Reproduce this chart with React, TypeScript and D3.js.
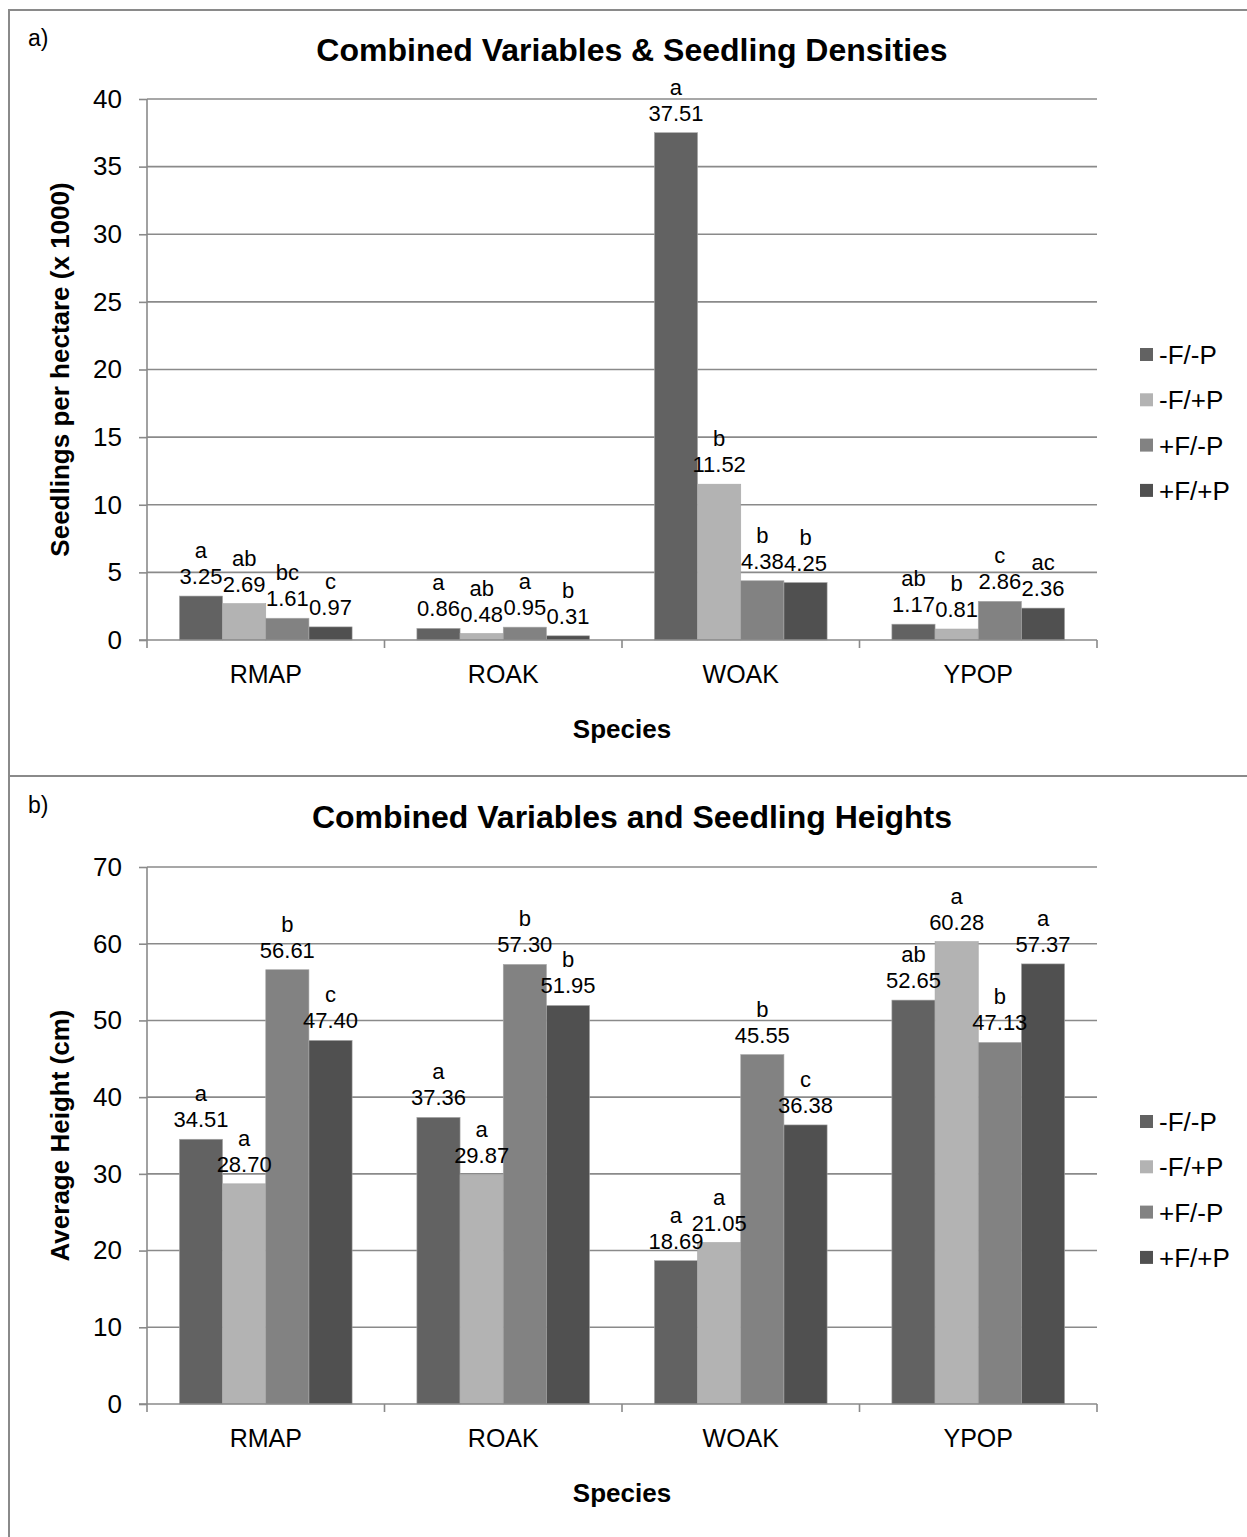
import React, { useEffect, useRef } from "react";
import * as d3 from "d3";

const species = ["RMAP", "ROAK", "WOAK", "YPOP"];
const treatments = ["-F/-P", "-F/+P", "+F/-P", "+F/+P"];
const colors = ["#626262", "#b3b3b3", "#828282", "#505050"];

// densities (x 1000 seedlings per hectare), one array per treatment
const densNFNP = [3.25, 0.86, 37.51, 1.17];
const densNFPP = [2.69, 0.48, 11.52, 0.81];
const densPFNP = [1.61, 0.95, 4.38, 2.86];
const densPFPP = [0.97, 0.31, 4.25, 2.36];
const densLetters = [
  ["a", "ab", "bc", "c"],
  ["a", "ab", "a", "b"],
  ["a", "b", "b", "b"],
  ["ab", "b", "c", "ac"],
];
const densTicks = [0, 5, 10, 15, 20, 25, 30, 35, 40];

// heights (cm)
const hgtNFNP = [34.51, 37.36, 18.69, 52.65];
const hgtNFPP = [28.7, 29.87, 21.05, 60.28];
const hgtPFNP = [56.61, 57.3, 45.55, 47.13];
const hgtPFPP = [47.4, 51.95, 36.38, 57.37];
const hgtLetters = [
  ["a", "a", "b", "c"],
  ["a", "a", "b", "b"],
  ["a", "a", "b", "c"],
  ["ab", "a", "b", "a"],
];
const hgtTicks = [0, 10, 20, 30, 40, 50, 60, 70];

const FONT = "'Liberation Sans', Arial, sans-serif";
const GRID = "#8a8a8a";

function drawPanel(svg, opts) {
  const { series, letters, ticks, max, top, bottom, title, titleY, yTitle, tag, tagY, legendY } = opts;
  const left = 147;
  const right = 1097;

  const x0 = d3.scaleBand().domain(species).range([left, right]).padding(0);
  const x1 = d3.scaleBand().domain(treatments).range([0, x0.bandwidth()]).paddingInner(0).paddingOuter(0.75);
  const y = d3.scaleLinear().domain([0, max]).range([bottom, top]);

  const g = svg.append("g");

  g.append("text").attr("x", 28).attr("y", tagY).style("font-size", "23px").text(tag);

  g.append("text")
    .attr("x", 632).attr("y", titleY)
    .attr("text-anchor", "middle")
    .style("font-size", "32px").style("font-weight", "bold")
    .text(title);

  // gridlines
  g.selectAll(".grid").data(ticks.filter(t => t > 0)).enter().append("line")
    .attr("x1", left).attr("x2", right)
    .attr("y1", d => y(d)).attr("y2", d => y(d))
    .attr("stroke", GRID).attr("stroke-width", 1.6);

  // y axis
  const yAxis = g.append("g")
    .attr("transform", `translate(${left},0)`)
    .call(d3.axisLeft(y).tickValues(ticks).tickSize(8).tickPadding(17).tickFormat(d3.format("d")));
  yAxis.selectAll("path, line").attr("stroke", GRID).attr("stroke-width", 1.6);
  yAxis.select(".domain").attr("d", `M0,${top}V${bottom}`);
  yAxis.selectAll("text").style("font-size", "26px").style("font-family", FONT).attr("fill", "#000");

  // bars
  const rows = species.map((s, i) => treatments.map((t, j) => ({ s, t, j, v: series[j][i], l: letters[i][j] })));
  const grp = g.selectAll(".grp").data(rows).enter().append("g")
    .attr("transform", (d, i) => `translate(${x0(species[i])},0)`);

  grp.selectAll("rect").data(d => d).enter().append("rect")
    .attr("x", d => x1(d.t))
    .attr("width", x1.bandwidth())
    .attr("y", d => y(d.v))
    .attr("height", d => bottom - y(d.v))
    .attr("fill", d => colors[d.j])
    .attr("stroke", "#a8a8a8").attr("stroke-width", 0.6);

  grp.selectAll(".val").data(d => d).enter().append("text")
    .attr("x", d => x1(d.t) + x1.bandwidth() / 2)
    .attr("y", d => y(d.v) - 12)
    .attr("text-anchor", "middle")
    .style("font-size", "22px")
    .text(d => d.v.toFixed(2));

  grp.selectAll(".let").data(d => d).enter().append("text")
    .attr("x", d => x1(d.t) + x1.bandwidth() / 2)
    .attr("y", d => y(d.v) - 38)
    .attr("text-anchor", "middle")
    .style("font-size", "22px")
    .text(d => d.l);

  // x axis
  const xAxis = g.append("g")
    .attr("transform", `translate(0,${bottom})`)
    .call(d3.axisBottom(x0).tickSize(0).tickPadding(25));
  xAxis.select(".domain").attr("stroke", GRID).attr("stroke-width", 1.6).attr("d", `M${left - 8},0H${right}`);
  xAxis.selectAll("text").style("font-size", "25px").style("font-family", FONT).attr("fill", "#000");
  xAxis.selectAll(".sep").data(d3.range(species.length + 1)).enter().append("line")
    .attr("x1", i => left + i * x0.step()).attr("x2", i => left + i * x0.step())
    .attr("y1", 0).attr("y2", 8)
    .attr("stroke", GRID).attr("stroke-width", 1.6);

  g.append("text")
    .attr("x", 622).attr("y", bottom + 98)
    .attr("text-anchor", "middle")
    .style("font-size", "26px").style("font-weight", "bold")
    .text("Species");

  g.append("text")
    .attr("transform", `translate(69,${(top + bottom) / 2}) rotate(-90)`)
    .attr("text-anchor", "middle")
    .style("font-size", "26px").style("font-weight", "bold")
    .text(yTitle);

  // legend
  const leg = g.selectAll(".leg").data(treatments).enter().append("g")
    .attr("transform", (d, i) => `translate(1140,${legendY + i * 45.3})`);
  leg.append("rect").attr("x", 0).attr("y", -7).attr("width", 13).attr("height", 13)
    .attr("fill", (d, i) => colors[i]);
  leg.append("text").attr("x", 19).attr("y", 9).style("font-size", "26px").text(d => d);
}

export default function App() {
  const ref = useRef(null);

  useEffect(() => {
    const svg = d3.select(ref.current);
    svg.selectAll("*").remove();
    svg.style("font-family", FONT);

    svg.append("rect").attr("width", 1247).attr("height", 1537).attr("fill", "#fff");
    // frame
    svg.append("rect").attr("x", 9).attr("y", 10).attr("width", 1250).attr("height", 1540)
      .attr("fill", "none").attr("stroke", GRID).attr("stroke-width", 2);
    svg.append("line").attr("x1", 9).attr("x2", 1247).attr("y1", 776).attr("y2", 776)
      .attr("stroke", GRID).attr("stroke-width", 2);

    drawPanel(svg, {
      series: [densNFNP, densNFPP, densPFNP, densPFPP],
      letters: densLetters,
      ticks: densTicks,
      max: 40, top: 99, bottom: 640,
      title: "Combined Variables & Seedling Densities", titleY: 61,
      yTitle: "Seedlings per hectare (x 1000)",
      tag: "a)", tagY: 46,
      legendY: 355,
    });

    drawPanel(svg, {
      series: [hgtNFNP, hgtNFPP, hgtPFNP, hgtPFPP],
      letters: hgtLetters,
      ticks: hgtTicks,
      max: 70, top: 867, bottom: 1404,
      title: "Combined Variables and Seedling Heights", titleY: 828,
      yTitle: "Average Height (cm)",
      tag: "b)", tagY: 813,
      legendY: 1122,
    });
  }, []);

  return (
    <svg ref={ref} width={1247} height={1537} style={{ position: "absolute", left: 0, top: 0 }} />
  );
}
